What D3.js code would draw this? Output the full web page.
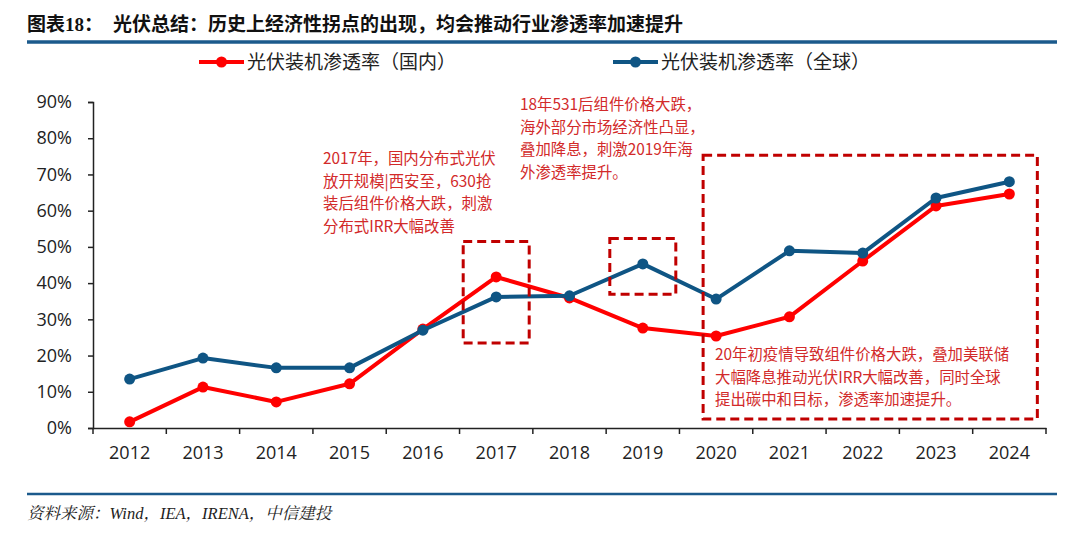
<!DOCTYPE html>
<html>
<head>
<meta charset="utf-8">
<script src="https://cdn.jsdelivr.net/npm/d3@7"></script>
<style>
  body { margin: 0; background: #fff; }
  svg { display: block; }
</style>
</head>
<body>
<div id="vis"></div>
<script>
// data
const YEARS = ["2012","2013","2014","2015","2016","2017","2018","2019","2020","2021","2022","2023","2024"];
const DOMESTIC = [1.7, 11.3, 7.2, 12.2, 27.3, 41.7, 35.9, 27.6, 25.4, 30.7, 46.1, 61.3, 64.6];
const GLOBAL = [13.5, 19.3, 16.6, 16.6, 27.0, 36.2, 36.5, 45.3, 35.6, 48.9, 48.3, 63.5, 68.0];
const Y_TICKS = [0, 10, 20, 30, 40, 50, 60, 70, 80, 90];
const SERIES_NAMES = ["光伏装机渗透率（国内）", "光伏装机渗透率（全球）"];

const NOTE_2017 = ["2017年，国内分布式光伏", "放开规模|西安至，630抢", "装后组件价格大跌，刺激", "分布式IRR大幅改善"];
const NOTE_2019 = ["18年531后组件价格大跌，", "海外部分市场经济性凸显，", "叠加降息，刺激2019年海", "外渗透率提升。"];
const NOTE_2020 = ["20年初疫情导致组件价格大跌，叠加美联储", "大幅降息推动光伏IRR大幅改善，同时全球", "提出碳中和目标，渗透率加速提升。"];

// frame
const FRAME_WIDTH = 1080;
const FRAME_HEIGHT = 536;
const MARGINS = {left: 93, right: 34, top: 102, bottom: 108};
const VIS_WIDTH = FRAME_WIDTH - MARGINS.left - MARGINS.right;
const VIS_HEIGHT = FRAME_HEIGHT - MARGINS.top - MARGINS.bottom;

const RED = "#ff0000";
const BLUE = "#0f5584";
const BOX_RED = "#c00000";
const NOTE_RED = "#d22a2a";
const CJK = "'Noto Sans CJK SC', 'Noto Sans', sans-serif";

const FRAME = d3.select("#vis")
  .append("svg")
  .attr("width", FRAME_WIDTH)
  .attr("height", FRAME_HEIGHT);

// title + rules
const title = FRAME.append("text")
  .attr("x", 27).attr("y", 31)
  .attr("font-family", CJK)
  .attr("font-weight", "bold")
  .attr("font-size", "19px")
  .attr("fill", "#111");
title.append("tspan").text("图表");
title.append("tspan").attr("font-family", "'Liberation Serif', serif").text("18");
title.append("tspan").text("：");
title.append("tspan").attr("x", 113).text("光伏总结：历史上经济性拐点的出现，均会推动行业渗透率加速提升");

FRAME.append("line")
  .attr("x1", 27).attr("x2", 1057).attr("y1", 42).attr("y2", 42)
  .attr("stroke", "#1b5a8c").attr("stroke-width", 3.5);

FRAME.append("line")
  .attr("x1", 27).attr("x2", 1057).attr("y1", 494).attr("y2", 494)
  .attr("stroke", "#1b5a8c").attr("stroke-width", 2.5);

FRAME.append("text")
  .attr("x", 27).attr("y", 519)
  .attr("font-family", "'Liberation Serif', 'Noto Serif CJK SC', serif")
  .attr("font-style", "italic")
  .attr("font-size", "16.5px")
  .attr("fill", "#222")
  .text("资料来源：Wind，IEA，IRENA，中信建投");

// scales
const X_SCALE = d3.scaleBand()
  .domain(YEARS)
  .range([MARGINS.left, MARGINS.left + VIS_WIDTH]);

const Y_SCALE = d3.scaleLinear()
  .domain([0, 90])
  .range([MARGINS.top + VIS_HEIGHT, MARGINS.top]);

const xc = (d) => X_SCALE(d) + X_SCALE.bandwidth() / 2;

// axes
const xAxis = FRAME.append("g")
  .attr("transform", "translate(0," + (MARGINS.top + VIS_HEIGHT) + ")")
  .call(d3.axisBottom(X_SCALE).tickSize(0).tickPadding(18));
xAxis.selectAll("text")
  .attr("font-family", "'Open Sans', 'DejaVu Sans', sans-serif")
  .attr("font-size", "18px")
  .attr("fill", "#222");
xAxis.select(".domain").attr("stroke", "#222").attr("stroke-width", 1.5);
// ticks between categories
xAxis.selectAll(".sep")
  .data(YEARS.concat(["end"]))
  .enter()
  .append("line")
  .attr("class", "sep")
  .attr("x1", (d, i) => i < YEARS.length ? X_SCALE(d) : X_SCALE.range()[1])
  .attr("x2", (d, i) => i < YEARS.length ? X_SCALE(d) : X_SCALE.range()[1])
  .attr("y1", 0).attr("y2", 6)
  .attr("stroke", "#222").attr("stroke-width", 1.5);

const yAxis = FRAME.append("g")
  .attr("transform", "translate(" + MARGINS.left + ",0)")
  .call(d3.axisLeft(Y_SCALE).tickValues(Y_TICKS).tickSize(5).tickPadding(16).tickFormat((d) => d + "%"));
yAxis.selectAll("text")
  .attr("font-family", "'Open Sans', 'DejaVu Sans', sans-serif")
  .attr("font-size", "18px")
  .attr("fill", "#222");
yAxis.selectAll("line").attr("stroke", "#222").attr("stroke-width", 1.5);
yAxis.select(".domain").attr("stroke", "#222").attr("stroke-width", 1.5);

// lines
function drawSeries(values, color) {
  const line = d3.line()
    .x((d, i) => xc(YEARS[i]))
    .y((d) => Y_SCALE(d));
  FRAME.append("path")
    .datum(values)
    .attr("d", line)
    .attr("fill", "none")
    .attr("stroke", color)
    .attr("stroke-width", 4)
    .attr("stroke-linejoin", "round");
  FRAME.append("g")
    .selectAll("circle")
    .data(values)
    .enter()
    .append("circle")
    .attr("cx", (d, i) => xc(YEARS[i]))
    .attr("cy", (d) => Y_SCALE(d))
    .attr("r", 5.5)
    .attr("fill", color);
}
drawSeries(DOMESTIC, RED);
drawSeries(GLOBAL, BLUE);

// dashed boxes (positioned by scales)
function box(year0, year1, v0, v1, padL, padR) {
  FRAME.append("rect")
    .attr("x", xc(year0) - padL)
    .attr("y", Y_SCALE(v1))
    .attr("width", xc(year1) - xc(year0) + padL + padR)
    .attr("height", Y_SCALE(v0) - Y_SCALE(v1))
    .attr("fill", "none")
    .attr("stroke", BOX_RED)
    .attr("stroke-width", 3)
    .attr("stroke-dasharray", "9,5");
}
box("2017", "2017", 23.5, 51.5, 33, 33);
box("2019", "2019", 36.9, 52.3, 33, 33);
box("2020", "2024", 2.5, 75.3, 13, 28);

// notes
function note(lines, x, y) {
  FRAME.append("g")
    .selectAll("text")
    .data(lines)
    .enter()
    .append("text")
    .attr("x", x)
    .attr("y", (d, i) => y + i * 22.5)
    .attr("font-family", CJK)
    .attr("font-size", "15.4px")
    .attr("fill", NOTE_RED)
    .text((d) => d);
}
note(NOTE_2017, 323, 164);
note(NOTE_2019, 520, 110);
note(NOTE_2020, 715, 360);

// legend
const LEGEND = [{name: SERIES_NAMES[0], color: RED, x: 199}, {name: SERIES_NAMES[1], color: BLUE, x: 613}];
const lg = FRAME.append("g").selectAll("g").data(LEGEND).enter().append("g");
lg.append("line")
  .attr("x1", (d) => d.x).attr("x2", (d) => d.x + 45)
  .attr("y1", 62).attr("y2", 62)
  .attr("stroke", (d) => d.color).attr("stroke-width", 4);
lg.append("circle")
  .attr("cx", (d) => d.x + 22.5).attr("cy", 62).attr("r", 5.5)
  .attr("fill", (d) => d.color);
lg.append("text")
  .attr("x", (d) => d.x + 48).attr("y", 69)
  .attr("font-family", CJK)
  .attr("font-size", "19px")
  .attr("fill", "#222")
  .text((d) => d.name);
</script>
</body>
</html>
